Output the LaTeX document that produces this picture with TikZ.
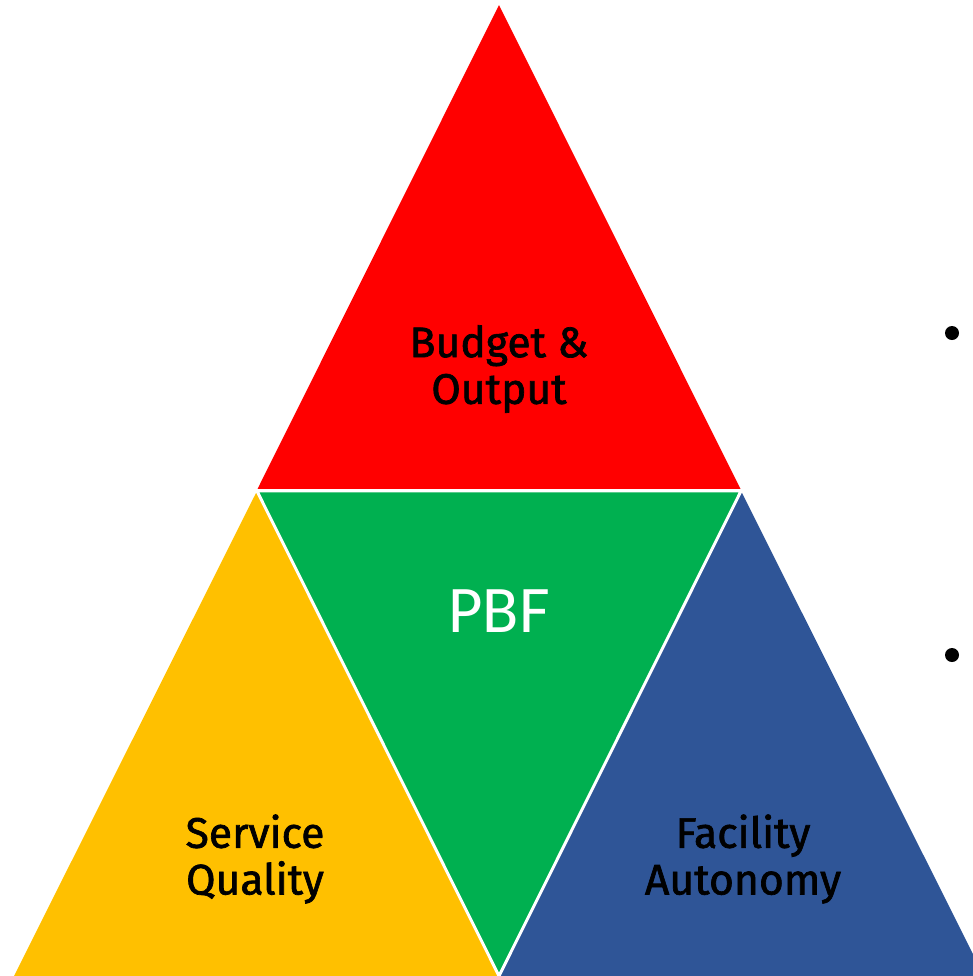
\documentclass[tikz,border=0pt]{standalone}
\usepackage{fontspec}
\newfontfamily\labelfont{Fira Sans}[FakeBold=1.6]
\newfontfamily\pbffont{Carlito}
\definecolor{pbfred}{HTML}{FF0000}
\definecolor{pbfgreen}{HTML}{00B050}
\definecolor{pbfyellow}{HTML}{FFC000}
\definecolor{pbfblue}{HTML}{2F5597}
\begin{document}
\begin{tikzpicture}[x=0.75pt,y=-0.75pt,
    part/.style={draw=white,line width=2.2pt,line join=miter},
    partlabel/.style={font=\labelfont\fontsize{32}{35}\selectfont,align=center,text=black}]
    \useasboundingbox (0,0) rectangle (973,976);
    \clip (0,0) rectangle (973,976);
    % top triangle
    \fill[pbfred] (499,5) -- (741,490) -- (257,490) -- cycle;
    \draw[part] (257,490) -- (741,490);
    % lower triangles
    \fill[pbfyellow] (257,491) -- (499,976) -- (14,976) -- cycle;
    \fill[pbfblue] (741,491) -- (984,976) -- (499,976) -- cycle;
    \fill[pbfgreen] (257,491) -- (741,491) -- (499,976) -- cycle;
    \draw[part] (257,491) -- (499,976) -- (741,491) -- cycle;

    \node[partlabel] (budget) at (499,369) {Budget \&\\Output};
    \node[partlabel] (quality) at (255,859) {Service\\Quality};
    \node[partlabel] (autonomy) at (743,859) {Facility\\Autonomy};
    \node[font=\pbffont\fontsize{50}{50}\selectfont,text=white] (pbf) at (499,611) {PBF};

    % bullets on the right
    \fill (952,333) circle (7);
    \fill (952,655) circle (7);
\end{tikzpicture}
\end{document}
